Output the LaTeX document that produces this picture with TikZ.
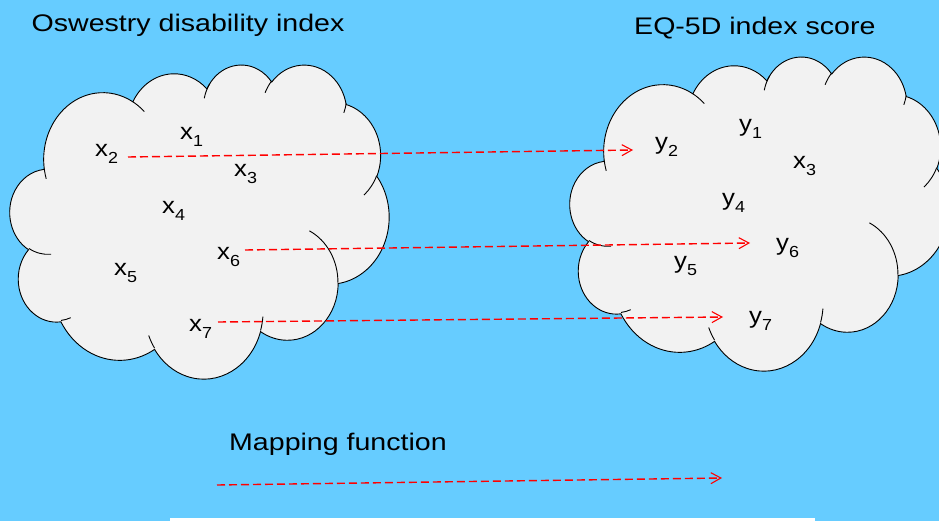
\documentclass[tikz,border=0pt]{standalone}
\usepackage{fontspec}
\setmainfont{Liberation Sans}
\usepackage{graphicx}
\usetikzlibrary{arrows.meta}
\definecolor{bgblue}{RGB}{102,204,255}
\definecolor{cloudgray}{RGB}{242,242,242}
\definecolor{maplinered}{RGB}{255,0,0}

% OOXML-style arcTo: wR hR stAng swAng (visual angles, degrees)
\newcommand\oocalc[4]{%
  \pgfmathparse{atan2((#1)*sin(#3),(#2)*cos(#3))}\xdef\ooS{\pgfmathresult}%
  \pgfmathparse{atan2((#1)*sin((#3)+(#4)),(#2)*cos((#3)+(#4)))}\xdef\ooE{\pgfmathresult}%
  \pgfmathparse{(\ooE)-(\ooS)}\xdef\ooD{\pgfmathresult}%
  \ifdim#4pt>0pt
    \ifdim\ooD pt<0pt \pgfmathparse{(\ooD)+360}\xdef\ooD{\pgfmathresult}\fi
  \else
    \ifdim\ooD pt>0pt \pgfmathparse{(\ooD)-360}\xdef\ooD{\pgfmathresult}\fi
  \fi}
\newcommand\ooarc[4]{\pgfextra{\oocalc{#1}{#2}{#3}{#4}} arc[start angle=\ooS, delta angle=\ooD, x radius=#1, y radius=#2]}

\newcommand\cloudoutline{(39,143.7)
  \ooarc{67.53}{91.90}{-190.4875}{123.7805}
  \ooarc{53.33}{72.67}{-144.1024}{89.9452}
  \ooarc{43.65}{59.45}{-145.8079}{99.7230}
  \ooarc{48.57}{65.95}{-130.9861}{117.2417}
  \ooarc{53.33}{72.73}{-78.7089}{109.0269}
  \ooarc{67.75}{92.20}{-46.2673}{130.2690}
  \ooarc{57.85}{78.67}{0.6250}{114.0333}
  \ooarc{67.52}{92.15}{22.4516}{115.1726}
  \ooarc{77.20}{105.43}{66.2426}{75.7110}
  \ooarc{43.60}{59.18}{-274.9421}{146.7356}
  \ooarc{43.45}{59.45}{-246.8285}{152.5189}
  -- cycle}

\newcommand\cloudhooks{
  (46.93,261.77) \ooarc{43.45}{59.45}{86.7420}{26.4295}
  (69.28,348.99) \ooarc{43.60}{59.18}{73.6105}{11.4475}
  (164.78,390.90) \ooarc{67.52}{92.15}{137.6242}{14.0811}
  (288.27,347.51) \ooarc{67.52}{92.15}{6.4533}{15.9984}
  (341.29,229.54) \ooarc{57.85}{78.67}{-70.2924}{70.9174}
  (417.98,153.54) \ooarc{53.33}{72.73}{30.3180}{27.7515}
  (383.24,54.26) \ooarc{48.57}{65.95}{13.7443}{14.8589}
  (290.78,39.52) \ooarc{48.57}{65.95}{-149.1815}{18.1954}
  (221.41,47.20) \ooarc{43.65}{59.45}{-163.4943}{25.1515}
  (140.00,51.92) \ooarc{67.53}{91.90}{-66.7070}{12.3194}
  (41.27,157.89) \ooarc{67.53}{91.90}{157.6544}{11.8582}
}

\newcommand\var[2]{\scalebox{1.12}[1]{#1\raisebox{-7pt}{\fontsize{16}{16}\selectfont #2}}}
\newcommand\wide[1]{\scalebox{1.19}[1]{#1}}

\begin{document}
\begin{tikzpicture}[x=1pt,y=-1pt,
  cloudshape/.style={fill=cloudgray, draw=black, line width=0.9pt},
  cloudline/.style={draw=black, line width=0.9pt},
  lbl/.style={anchor=base west, inner sep=0pt, font=\fontsize{23}{23}\selectfont},
  ttl/.style={anchor=base west, inner sep=0pt, font=\fontsize{24}{24}\selectfont},
  maparrow/.style={draw=maplinered, line width=1.4pt, dash pattern=on 8pt off 4pt,
    -{Straight Barb[length=10pt,width=11pt,line width=1.1pt]}}]
\useasboundingbox (0,0) rectangle (939,521);
\fill[bgblue] (0,0) rectangle (939,521);
\clip (0,0) rectangle (939,521);
\fill[white] (170,518) rectangle (815,530);

% left cloud
\begin{scope}[xshift=10pt,yshift=-64pt,x=0.8773pt,y=-0.7269pt]
  \path[cloudshape] \cloudoutline;
  \path[cloudline] \cloudhooks;
\end{scope}
% right cloud
\begin{scope}[xshift=570pt,yshift=-56pt,x=0.8773pt,y=-0.7269pt]
  \path[cloudshape] \cloudoutline;
  \path[cloudline] \cloudhooks;
\end{scope}

% titles
\node[ttl] (t1) at (31.5,32) {\wide{Oswestry disability index}};
\node[ttl] (t2) at (634,35) {\wide{EQ-5D index score}};
\node[ttl] (t3) at (229,450) {\wide{Mapping function}};

% left labels
\node[lbl] (x1) at (180,140) {\var{x}{1}};
\node[lbl] (x2) at (95,157) {\var{x}{2}};
\node[lbl] (x3) at (234,177) {\var{x}{3}};
\node[lbl] (x4) at (162,214) {\var{x}{4}};
\node[lbl] (x5) at (114,276) {\var{x}{5}};
\node[lbl] (x6) at (217,259) {\var{x}{6}};
\node[lbl] (x7) at (189,331) {\var{x}{7}};
% right labels
\node[lbl] (y1) at (739,132) {\var{y}{1}};
\node[lbl] (y2) at (655,150) {\var{y}{2}};
\node[lbl] (x3r) at (793,169) {\var{x}{3}};
\node[lbl] (y4) at (722,206) {\var{y}{4}};
\node[lbl] (y5) at (674,269) {\var{y}{5}};
\node[lbl] (y6) at (776,251) {\var{y}{6}};
\node[lbl] (y7) at (749,323) {\var{y}{7}};

% mapping arrows
\draw[maparrow] ([shift={(33,0)}]x2.base west) -- ([shift={(-22,0)}]y2.base west);
\draw[maparrow] ([shift={(28,-9)}]x6.base west) -- ([shift={(-26,-8)}]y6.base west);
\draw[maparrow] ([shift={(29,-9)}]x7.base west) -- ([shift={(-26,-6)}]y7.base west);

% legend arrow
\coordinate (m1) at (217,485);
\coordinate (m2) at (722,478);
\draw[maparrow] (m1) -- (m2);
\end{tikzpicture}
\end{document}
